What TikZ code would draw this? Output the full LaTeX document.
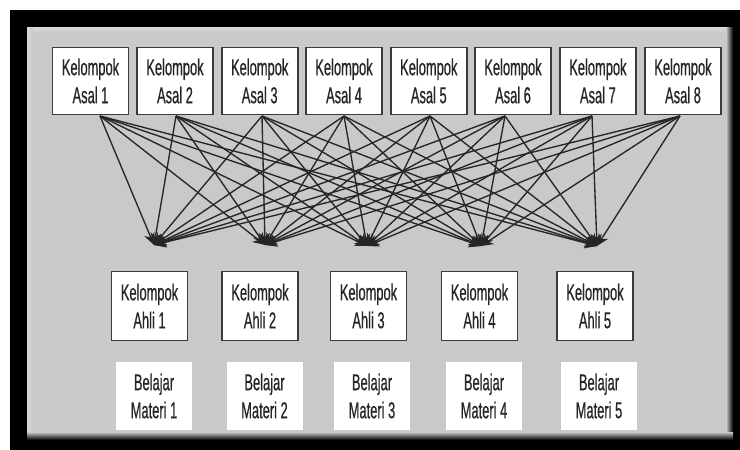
\documentclass[tikz,border=0pt]{standalone}
\usepackage{fontspec}
\newfontfamily\narrowsans[FakeStretch=0.56,FakeBold=0.6]{Liberation Sans}
\usetikzlibrary{arrows.meta}
\definecolor{panel}{HTML}{C9C9C9}
\definecolor{panellight}{HTML}{DADADA}
\definecolor{boxline}{HTML}{3A3A3A}

\begin{document}
\begin{tikzpicture}[x=1pt,y=-1pt,
  groupbox/.style={draw=boxline, line width=1.6pt, fill=white,
    minimum width=76pt, minimum height=67pt, inner sep=0pt, align=center,
    font=\narrowsans\fontsize{23}{28}\selectfont, text=black!85},
  notebox/.style={fill=white, minimum width=76pt, minimum height=68pt,
    inner sep=0pt, align=center, font=\narrowsans\fontsize{23}{28}\selectfont,
    text=black!85},
  link/.style={draw=black!85, line width=1.35pt,
    -{Stealth[length=12pt,width=11pt]}}
]
\useasboundingbox (0,0) rectangle (740,450);
% frame and panel
\fill[white] (0,0) rectangle (740,450);
\fill[black] (10,10) rectangle (740,450);
\fill[panel] (27,27) rectangle (731,438);
\shade[top color=panellight, bottom color=panel] (27,27) rectangle (731,33);
\shade[left color=panellight, right color=panel] (27,27) rectangle (33,438);
\shade[left color=panel, right color=black] (726,27) rectangle (733,440);
\shade[top color=panel, bottom color=black] (27,432) rectangle (733,440);

% home groups
\foreach \i/\x in {1/90.5,2/175,3/259.7,4/344,5/428.8,6/513,7/597.9,8/683}
  \node[groupbox] (asal\i) at (\x,81) {Kelompok\\Asal \i};

% expert groups
\foreach \i/\x in {1/149.5,2/260,3/368.5,4/479.5,5/595}
  \node[groupbox, minimum height=69pt] (ahli\i) at (\x,306) {Kelompok\\Ahli \i};

% study material
\foreach \i/\x in {1/154,2/264.5,3/372,4/484,5/599}
  \node[notebox] (materi\i) at (\x,396) {Belajar\\Materi \i};

% where the lines leave the home groups
\foreach \i/\x in {1/100,2/176,3/262,4/344,5/430,6/505,7/592,8/680}
  \coordinate (s\i) at (\x,116);

% where the lines meet above the expert groups
\foreach \j/\x/\y in {1/154/245,2/265/245,3/367/246,4/481/246,5/597/246}
  \coordinate (t\j) at (\x,\y);

\foreach \i in {1,...,8}
  \foreach \j in {1,...,5}
    \draw[link] (s\i) -- (t\j);
\end{tikzpicture}
\end{document}
